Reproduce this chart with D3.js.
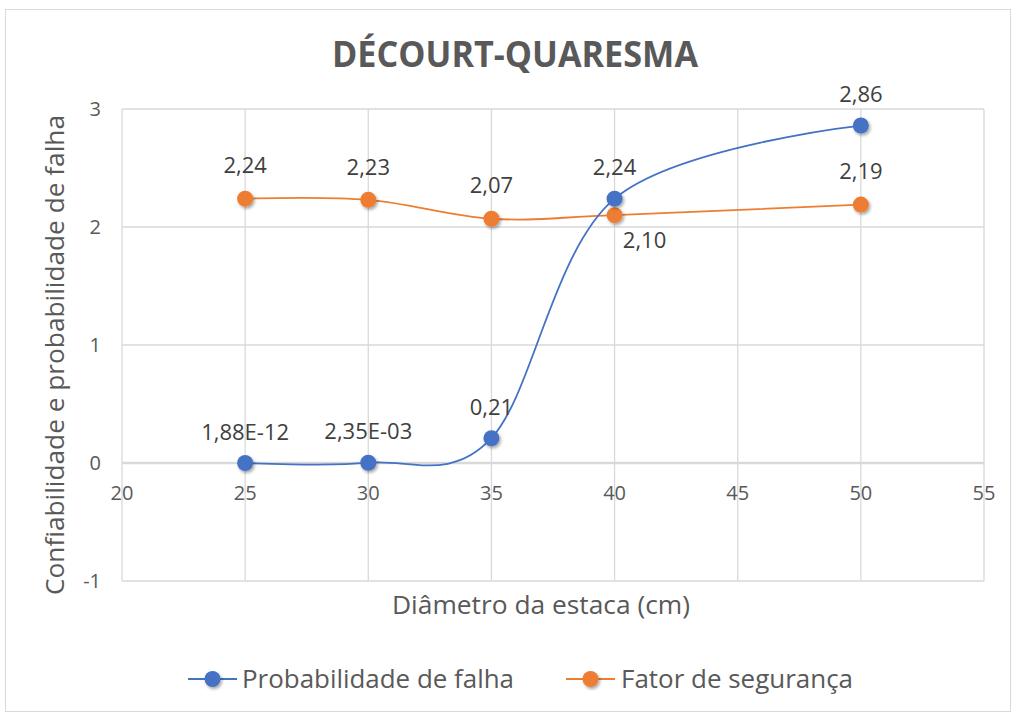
<!DOCTYPE html>
<html><head><meta charset="utf-8">
<script src="https://cdn.jsdelivr.net/npm/d3@7"></script>
<style>body{margin:0;background:#fff}svg{display:block}text{font-family:"Open Sans","Noto Sans",sans-serif}</style>
</head><body><svg id="c" width="1016" height="715"></svg>
<script>
const diameters = [25, 30, 35, 40, 50];
const probFalha = [1.88e-12, 2.35e-3, 0.21, 2.24, 2.86];
const probLabels = ["1,88E-12", "2,35E-03", "0,21", "2,24", "2,86"];
const fatorSeg = [2.24, 2.23, 2.07, 2.10, 2.19];
const fatorLabels = ["2,24", "2,23", "2,07", "2,10", "2,19"];
const xTicks = [20, 25, 30, 35, 40, 45, 50, 55];
const yTicks = [-1, 0, 1, 2, 3];
const seriesNames = ["Probabilidade de falha", "Fator de segurança"];
const colors = ["#4472C4", "#ED7D31"];

const svg = d3.select("#c");
const defs = svg.append("defs");
const f = defs.append("filter").attr("id","sh").attr("x","-50%").attr("y","-50%").attr("width","200%").attr("height","200%");
f.append("feDropShadow").attr("dx",1.5).attr("dy",2).attr("stdDeviation",1.5).attr("flood-color","#000").attr("flood-opacity",0.35);

svg.append("rect").attr("x",5.5).attr("y",9.5).attr("width",1005).attr("height",702)
  .attr("fill","#fff").attr("stroke","#d9d9d9");

const x = d3.scaleLinear().domain([20,55]).range([122,984]);
const y = d3.scaleLinear().domain([-1,3]).range([581,109]);

// gridlines
svg.append("g").selectAll("line.v").data(xTicks).join("line")
  .attr("x1",d=>x(d)).attr("x2",d=>x(d)).attr("y1",y(3)).attr("y2",y(-1))
  .attr("stroke","#d9d9d9").attr("stroke-width",1.3);
svg.append("g").selectAll("line.h").data(yTicks.filter(d=>d!==0)).join("line")
  .attr("x1",x(20)).attr("x2",x(55)).attr("y1",d=>y(d)).attr("y2",d=>y(d))
  .attr("stroke","#d9d9d9").attr("stroke-width",1.3);
svg.append("line").attr("x1",x(20)).attr("x2",x(55)).attr("y1",y(0)).attr("y2",y(0))
  .attr("stroke","#d9d9d9").attr("stroke-width",2.5);

// tick labels
svg.append("g").selectAll("text").data(yTicks).join("text")
  .attr("x",101).attr("y",d=>y(d)).attr("dy","0.35em").attr("text-anchor","end")
  .attr("font-size",20).attr("fill","#595959").text(d=>d);
svg.append("g").selectAll("text").data(xTicks).join("text")
  .attr("x",d=>x(d)).attr("y",y(0)+30).attr("dy","0.35em").attr("text-anchor","middle")
  .attr("font-size",20).attr("fill","#595959").text(d=>d);

// titles
svg.append("text").attr("x",515).attr("y",67).attr("text-anchor","middle")
  .attr("font-size",35).attr("font-weight","bold").attr("fill","#595959")
  .attr("textLength",366).attr("lengthAdjust","spacingAndGlyphs").text("DÉCOURT-QUARESMA");
svg.append("text").attr("transform","translate(64,355) rotate(-90)").attr("text-anchor","middle")
  .attr("font-size",25).attr("fill","#595959")
  .attr("textLength",480).attr("lengthAdjust","spacingAndGlyphs").text("Confiabilidade e probabilidade de falha");
svg.append("text").attr("x",541).attr("y",605).attr("dy","0.35em").attr("text-anchor","middle")
  .attr("font-size",25).attr("fill","#595959")
  .attr("textLength",298).attr("lengthAdjust","spacingAndGlyphs").text("Diâmetro da estaca (cm)");

const line = d3.line().x(d=>x(d[0])).y(d=>y(d[1])).curve(d3.curveCardinal.tension(0));
const series = [
  {vals: probFalha, labels: probLabels, color: colors[0], offs: [[0,-31],[0,-31],[0,-31],[0,-31],[0,-31]]},
  {vals: fatorSeg, labels: fatorLabels, color: colors[1], offs: [[0,-33],[0,-33],[0,-33],[30,25],[0,-33]]}
];
[series[1], series[0]].forEach(s=>{
  const pts = diameters.map((d,i)=>[d, s.vals[i]]);
  svg.append("path").attr("d",line(pts)).attr("fill","none").attr("stroke",s.color).attr("stroke-width",1.8);
});
[series[1], series[0]].forEach(s=>{
  const pts = diameters.map((d,i)=>[d, s.vals[i]]);
  svg.append("g").selectAll("circle").data(pts).join("circle")
    .attr("cx",d=>x(d[0])).attr("cy",d=>y(d[1])).attr("r",8)
    .attr("fill",s.color).attr("filter","url(#sh)");
});
series.forEach(s=>{
  svg.append("g").selectAll("text").data(diameters).join("text")
    .attr("x",(d,i)=>x(d)+s.offs[i][0]).attr("y",(d,i)=>y(s.vals[i])+s.offs[i][1])
    .attr("dy","0.35em").attr("text-anchor","middle").attr("font-size",22).attr("fill","#404040")
    .text((d,i)=>s.labels[i]);
});

// legend
const leg = [{x1:188,x2:237,t:242,w:272},{x1:566,x2:615,t:621,w:232}];
leg.forEach((l,i)=>{
  const g = svg.append("g");
  g.append("line").attr("x1",l.x1).attr("x2",l.x2).attr("y1",679).attr("y2",679)
    .attr("stroke",colors[i]).attr("stroke-width",1.8);
  g.append("circle").attr("cx",(l.x1+l.x2)/2).attr("cy",679).attr("r",8).attr("fill",colors[i]).attr("filter","url(#sh)");
  g.append("text").attr("x",l.t).attr("y",679).attr("dy","0.35em").attr("font-size",25)
    .attr("fill","#595959").attr("textLength",l.w).attr("lengthAdjust","spacingAndGlyphs").text(seriesNames[i]);
});
</script></body></html>
